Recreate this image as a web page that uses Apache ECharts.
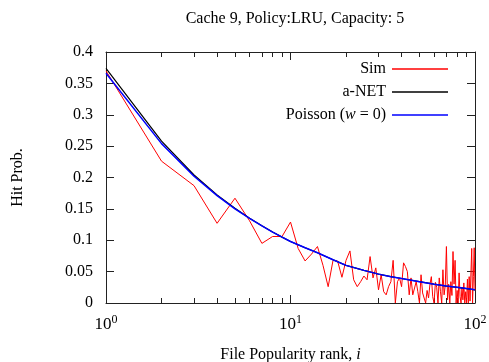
<!DOCTYPE html>
<html>
<head>
<meta charset="utf-8">
<script src="https://cdn.jsdelivr.net/npm/echarts@6/dist/echarts.min.js"></script>
<style>
  html, body { margin: 0; padding: 0; background: #fff; }
  #chart { width: 489px; height: 362px; }
</style>
</head>
<body>
<div id="chart"></div>
<script>
// simulated hit probability, rank 1..100
const simHit = [
  0.370, 0.226, 0.187, 0.127, 0.167, 0.131, 0.095, 0.106, 0.106, 0.129,
  0.087, 0.067, 0.078, 0.090, 0.060, 0.026, 0.068, 0.067, 0.041, 0.068,
  0.083, 0.037, 0.026, 0.034, 0.043, 0.037, 0.074, 0.040, 0.056, 0.021,
  0.045, 0.018, 0.013, 0.026, 0.034, 0.068, 0.000, 0.034, 0.040, 0.026,
  0.064, 0.058, 0.050, 0.013, 0.040, 0.013, 0.016, 0.034, 0.018, 0.000,
  0.045, 0.016, 0.015, 0.000, 0.020, 0.008, 0.030, 0.042, 0.010, 0.000,
  0.033, 0.025, 0.000, 0.040, 0.018, 0.000, 0.053, 0.013, 0.028, 0.090,
  0.005, 0.030, 0.000, 0.034, 0.012, 0.082, 0.030, 0.068, 0.000, 0.020,
  0.000, 0.048, 0.010, 0.000, 0.025, 0.005, 0.032, 0.000, 0.018, 0.000,
  0.038, 0.000, 0.042, 0.003, 0.000, 0.087, 0.000, 0.042, 0.088, 0.020
];
const curveRanks = [1, 2, 3, 4, 5, 6, 7, 8, 9, 10, 12, 14, 17, 20, 25, 30, 35, 40, 50, 60, 70, 80, 90, 100];
const anetHit =    [0.374, 0.258, 0.204, 0.172, 0.151, 0.135, 0.123, 0.113, 0.105, 0.098, 0.088, 0.080, 0.069, 0.060, 0.052, 0.046, 0.042, 0.039, 0.034, 0.030, 0.027, 0.025, 0.023, 0.021];
const poissonHit = [0.366, 0.254, 0.202, 0.171, 0.150, 0.135, 0.123, 0.113, 0.105, 0.098, 0.088, 0.080, 0.069, 0.060, 0.052, 0.046, 0.042, 0.039, 0.034, 0.030, 0.027, 0.025, 0.023, 0.021];
const xMinorTicks = [2, 3, 4, 5, 6, 7, 8, 9, 20, 30, 40, 50, 60, 70, 80, 90];

const FONT = 'Liberation Serif';
const AX = '#222';

const chart = echarts.init(document.getElementById('chart'));

const logAxis = (pos, major, show) => ({
  type: 'log', logBase: 10, min: 1, max: 100, position: pos,
  axisLine: { show: show, lineStyle: { color: AX, width: 1 } },
  axisTick: major
    ? { show: true, inside: true, length: 8, lineStyle: { color: AX } }
    : { show: true, inside: true, length: 5, customValues: xMinorTicks, lineStyle: { color: AX } },
  axisLabel: { show: false },
  splitLine: { show: false },
  minorTick: { show: false }
});

const bottomAxis = logAxis('bottom', true, true);
bottomAxis.axisLabel = {
  show: true, margin: 11, color: '#000', fontFamily: FONT,
  formatter: v => '{b|10}{s|' + Math.round(Math.log10(v)) + '}',
  rich: {
    b: { fontSize: 17, fontFamily: FONT, color: '#000' },
    s: { fontSize: 12, fontFamily: FONT, color: '#000', verticalAlign: 'bottom', padding: [0, 0, 9, 0] }
  }
};
bottomAxis.name = 'File Popularity rank, {i|i}';
bottomAxis.nameLocation = 'middle';
bottomAxis.nameGap = 44;
bottomAxis.nameTextStyle = {
  fontFamily: FONT, fontSize: 16, color: '#000',
  rich: { i: { fontFamily: FONT, fontSize: 16, fontStyle: 'italic', color: '#000' } }
};

const valAxis = (pos, labels) => ({
  type: 'value', min: 0, max: 0.4, interval: 0.05, position: pos,
  axisLine: { show: true, lineStyle: { color: AX, width: 1 } },
  axisTick: { show: true, inside: true, length: 8, lineStyle: { color: AX } },
  axisLabel: {
    show: labels, margin: 13, color: '#000', fontFamily: FONT, fontSize: 16,
    formatter: v => String(+v.toFixed(2))
  },
  splitLine: { show: false }
});

const leftAxis = valAxis('left', true);
leftAxis.name = 'Hit Prob.';
leftAxis.nameLocation = 'middle';
leftAxis.nameGap = 80;
leftAxis.nameTextStyle = { fontFamily: FONT, fontSize: 16, color: '#000' };

chart.setOption({
  animation: false,
  title: {
    text: 'Cache 9, Policy:LRU, Capacity: 5',
    left: 290, top: 6, textAlign: 'center',
    textStyle: { fontFamily: FONT, fontSize: 16, fontWeight: 'normal', color: '#000' }
  },
  grid: { left: 106, right: 14, top: 52, bottom: 59, outerBoundsMode: 'none' },
  legend: {
    orient: 'vertical', align: 'right', right: 41, top: 61, padding: 0,
    itemWidth: 56, itemHeight: 1.5, itemGap: 7, icon: 'rect',
    textStyle: {
      fontFamily: FONT, fontSize: 16, color: '#000', padding: [0, 1, 0, 0],
      rich: { i: { fontFamily: FONT, fontSize: 16, fontStyle: 'italic', color: '#000' } }
    },
    formatter: n => n === 'Poisson (w = 0)' ? 'Poisson ({i|w} = 0)' : n,
    data: ['Sim', 'a-NET', 'Poisson (w = 0)']
  },
  xAxis: [bottomAxis, logAxis('bottom', false, false), logAxis('top', true, true), logAxis('top', false, false)],
  yAxis: [leftAxis, valAxis('right', false)],
  series: [
    {
      name: 'Sim', type: 'line', xAxisIndex: 0, yAxisIndex: 0,
      showSymbol: false, symbol: 'none',
      lineStyle: { color: '#ff0000', width: 1 }, itemStyle: { color: '#ff0000' },
      data: simHit.map((v, k) => [k + 1, v])
    },
    {
      name: 'a-NET', type: 'line', xAxisIndex: 0, yAxisIndex: 0,
      showSymbol: false, symbol: 'none',
      lineStyle: { color: '#000000', width: 1.2 }, itemStyle: { color: '#000000' },
      data: curveRanks.map((r, k) => [r, anetHit[k]])
    },
    {
      name: 'Poisson (w = 0)', type: 'line', xAxisIndex: 0, yAxisIndex: 0,
      showSymbol: false, symbol: 'none',
      lineStyle: { color: '#0000ff', width: 1.5 }, itemStyle: { color: '#0000ff' },
      data: curveRanks.map((r, k) => [r, poissonHit[k]])
    }
  ]
});
</script>
</body>
</html>
